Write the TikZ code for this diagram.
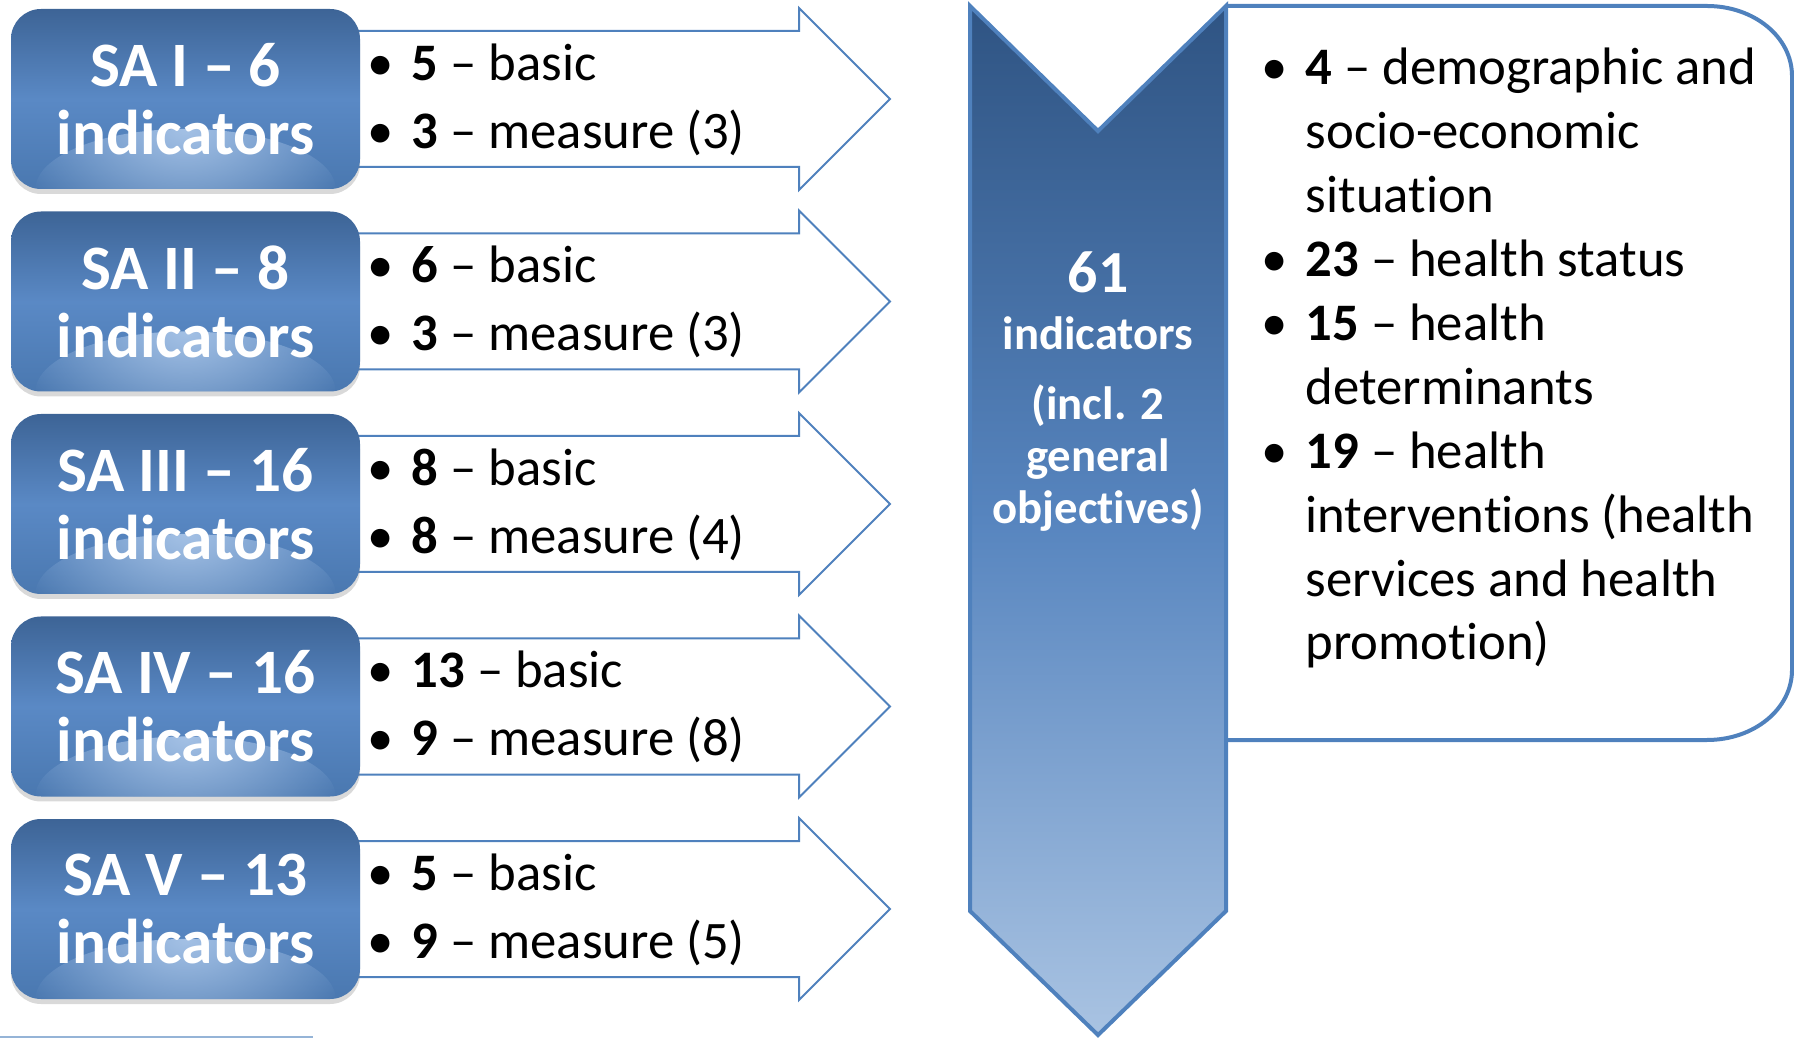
\documentclass[tikz,border=0pt]{standalone}
\usepackage{fontspec}
\setmainfont{Carlito}[Ligatures={NoCommon,NoContextual,NoRequired}, Contextuals=NoAlternate, RawFeature={-ccmp}]
\usetikzlibrary{shadows,fadings}

\definecolor{saline}{HTML}{4F81BD}
\definecolor{satop}{HTML}{3D6496}
\definecolor{samid}{HTML}{5A89C5}
\definecolor{sabot}{HTML}{4A78B0}
\definecolor{saglow}{HTML}{B2CCEC}
\definecolor{chevtop}{HTML}{2F5483}
\definecolor{chevmid}{HTML}{5785BF}
\definecolor{chevbot}{HTML}{A9C3E2}

\tikzfading[name=saglowfade, inner color=transparent!15, outer color=transparent!100]

\newcommand{\sabullet}{\makebox[4.4mm][l]{\textbullet}}
\newcommand{\saindent}{\makebox[4.4mm][l]{}}

\begin{document}
\begin{tikzpicture}[x=0.1mm,y=-0.1mm,
	sabox/.style={rounded corners=3mm, minimum width=34.9mm, minimum height=18mm,
		inner sep=0pt, top color=satop, bottom color=sabot, middle color=samid,
		text=white, align=center, font=\fontsize{18}{19.4}\selectfont\bfseries,
		drop shadow={shadow xshift=0pt, shadow yshift=-0.5mm, opacity=0.3},
		path picture={\fill[saglow, path fading=saglowfade]
			(path picture bounding box.south) ellipse (15mm and 6mm);}},
	saarrow/.style={draw=saline, line width=0.2mm, fill=white, line join=miter},
	salist/.style={anchor=north west, inner sep=0pt, align=left,
		font=\fontsize{15}{19.3}\selectfont},
	chevron/.style={draw=saline, line width=0.4mm, top color=chevtop,
		bottom color=chevbot, middle color=chevmid, line join=miter},
	chevtxt/.style={text=white, inner sep=0pt, align=center,
		font=\fontsize{13.3}{14.8}\selectfont\bfseries},
	rbox/.style={draw=saline, line width=0.4mm, fill=white}]

	\useasboundingbox (0,0) rectangle (1794,1039);

	% block arrows behind the boxes
	\draw[saarrow] (330,31) -- (799,31) -- (799,8) -- (890,99) -- (799,190) -- (799,167) -- (330,167);
	\draw[saarrow] (330,233.5) -- (799,233.5) -- (799,210.5) -- (890,301.5) -- (799,392.5) -- (799,369.5) -- (330,369.5);
	\draw[saarrow] (330,436) -- (799,436) -- (799,413) -- (890,504) -- (799,595) -- (799,572) -- (330,572);
	\draw[saarrow] (330,638.5) -- (799,638.5) -- (799,615.5) -- (890,706.5) -- (799,797.5) -- (799,774.5) -- (330,774.5);
	\draw[saarrow] (330,841) -- (799,841) -- (799,818) -- (890,909) -- (799,1000) -- (799,977) -- (330,977);

	% strategic areas
	\node[sabox] (sa1) at (185.5,99) {SA I -- 6\\indicators};
	\node[sabox] (sa2) at (185.5,301.5) {SA II -- 8\\indicators};
	\node[sabox] (sa3) at (185.5,504) {SA III -- 16\\indicators};
	\node[sabox] (sa4) at (185.5,706.5) {SA IV -- 16\\indicators};
	\node[sabox] (sa5) at (185.5,909) {SA V -- 13\\indicators};

	\node[salist] (list1) at (367,43) {\sabullet\textbf{5} -- basic\\\sabullet\textbf{3} -- measure (3)};
	\node[salist] (list2) at (367,245.5) {\sabullet\textbf{6} -- basic\\\sabullet\textbf{3} -- measure (3)};
	\node[salist] (list3) at (367,448) {\sabullet\textbf{8} -- basic\\\sabullet\textbf{8} -- measure (4)};
	\node[salist] (list4) at (367,650.5) {\sabullet\textbf{13} -- basic\\\sabullet\textbf{9} -- measure (8)};
	\node[salist] (list5) at (367,853) {\sabullet\textbf{5} -- basic\\\sabullet\textbf{9} -- measure (5)};

	% groups of indicators
	\draw[rbox] (1226,6) -- (1707,6) .. controls (1754,6) and (1792,37) .. (1792,76)
		-- (1792,670) .. controls (1792,709) and (1754,740) .. (1707,740) -- (1226,740);

	\node[salist, font=\fontsize{15}{18.2}\selectfont] (groups) at (1261,47)
		{\sabullet\textbf{4} -- demographic and\\
		\saindent socio-economic\\
		\saindent situation\\
		\sabullet\textbf{23} -- health status\\
		\sabullet\textbf{15} -- health\\
		\saindent determinants\\
		\sabullet\textbf{19} -- health\\
		\saindent interventions (health\\
		\saindent services and health\\
		\saindent promotion)};

	% total
	\draw[chevron] (970,6) -- (1098,131) -- (1226,6) -- (1226,911) -- (1098,1035) -- (970,911) -- cycle;

	\node[chevtxt, font=\fontsize{17}{20}\selectfont\bfseries] (total) at (1098,272) {61};
	\node[chevtxt] (totallbl) at (1098,333) {indicators};
	\node[chevtxt] (incl) at (1098,458) {(incl. 2\\general\\objectives)};

	\draw[saline!60, line width=0.15mm] (0,1037) -- (313,1037);
\end{tikzpicture}
\end{document}
